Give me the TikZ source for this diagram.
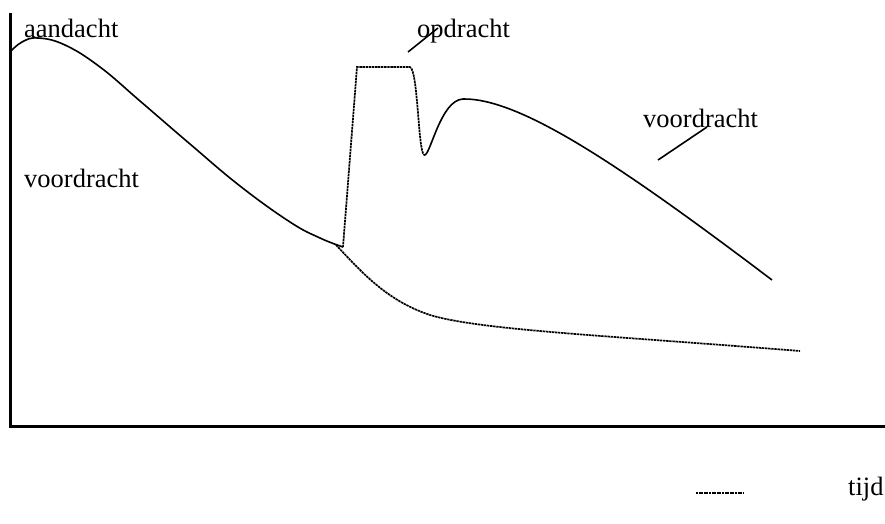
\documentclass[tikz,border=0pt]{standalone}
\usepackage{fontspec}
\setmainfont{Liberation Serif}
\begin{document}
\begin{tikzpicture}[x=1pt,y=-1pt,
  lbl/.style={anchor=base west,inner sep=0pt,font=\fontsize{26.5}{30}\selectfont},
  axis/.style={line width=3pt},
  curve/.style={line width=1.6pt},
  fine/.style={line width=1.7pt,dash pattern=on 2.4pt off 0.7pt},
  pointer/.style={line width=1.6pt}]
\useasboundingbox (0,0) rectangle (885,523);
% axes
\coordinate (top) at (10,13);
\coordinate (origin) at (10,426);
\coordinate (right) at (885,426);
\draw[axis] (top) -- (origin |- right) -- (right);
% labels
\node[lbl] (aand) at (24,37) {aandacht};
\node[lbl] (opdr) at (417,37) {opdracht};
\node[lbl] (voorR) at (643,127) {voordracht};
\node[lbl] (voorL) at (24,187) {voordracht};
\node[lbl] (tijd) at (848,495) {tijd};
% attention curve during the lecture
\draw[curve] plot[smooth,tension=0.7] coordinates {
  (10,52) (22,42) (38,38) (65,45) (100,67) (140,101) (190,144)
  (240,186) (290,222) (320,238) (343,247)};
% lecture continued: attention keeps dropping
\draw[fine] (336,245) .. controls (360,270) and (385,300) .. (430,315)
  .. controls (480,330) and (600,335) .. (800,351);
% assignment, then lecture again
\draw[fine] (343,247) -- (357,67) -- (410,67)
  .. controls (418,70) and (418,150) .. (424,155);
\draw[curve] (424,155) .. controls (430,158) and (440,100) .. (463,99)
  .. controls (520,98) and (620,165) .. (772,280);
% pointers
\coordinate (p1a) at (408,52);
\coordinate (p1b) at (438,28);
\coordinate (p2a) at (658,160);
\coordinate (p2b) at (707,127);
\draw[pointer] (p1a) -- (p1b);
\draw[pointer] (p2a) -- (p2b);
% legend stroke
\coordinate (la) at (696,493);
\coordinate (lb) at (744,493);
\draw[line width=1.5pt,dash pattern=on 2pt off 0.6pt] (la) -- (lb);
\end{tikzpicture}
\end{document}
